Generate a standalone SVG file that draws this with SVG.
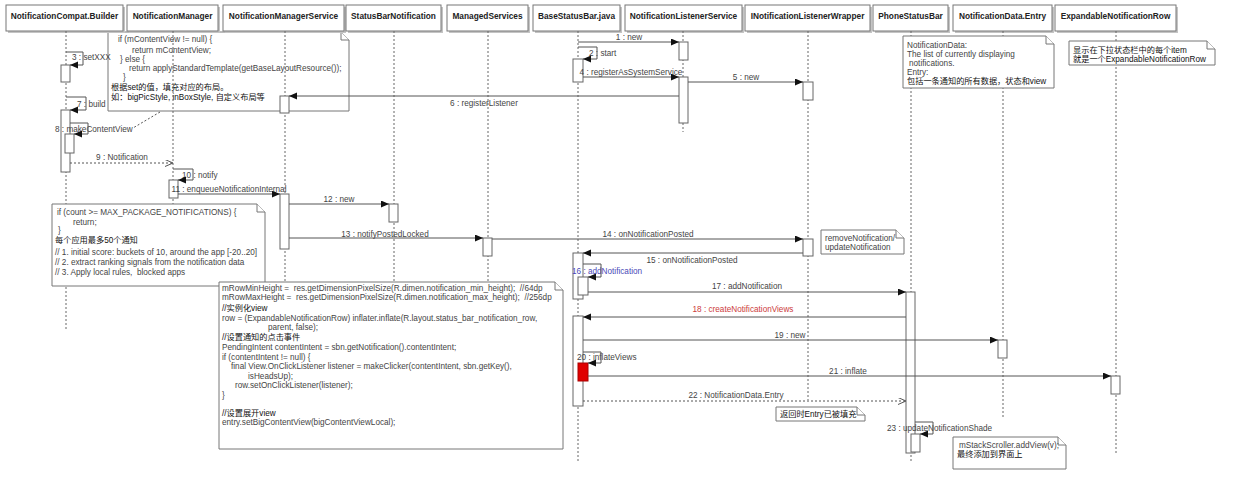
<svg xmlns="http://www.w3.org/2000/svg" width="1240" height="495" viewBox="0 0 1240 495">
<style>
.t{font-family:"Liberation Sans","Noto Sans CJK SC",sans-serif;font-size:8.2px;fill:#444;white-space:pre}
.c{fill:#111}
.b{font-family:"Liberation Sans","Noto Sans CJK SC",sans-serif;font-size:8.3px;font-weight:bold;fill:#222}
.m{text-anchor:middle}
.hd{fill:#fff;stroke:#777;stroke-width:1}
.sh{fill:#c4c4c4}
.ll{stroke:#666;stroke-width:1;stroke-dasharray:2,2;fill:none}
.act{fill:#fff;stroke:#666;stroke-width:1}
.msg{stroke:#555;stroke-width:1;fill:none}
.ret{stroke:#555;stroke-width:1;fill:none;stroke-dasharray:2,2}
.note{fill:#fff;stroke:#777;stroke-width:1}
</style>
<defs>
<marker id="arr" markerUnits="userSpaceOnUse" markerWidth="9" markerHeight="8" refX="8" refY="3.5" orient="auto"><path d="M0,0 L8,3.5 L0,7 z" fill="#111"/></marker>
<marker id="open" markerUnits="userSpaceOnUse" markerWidth="9" markerHeight="8" refX="8" refY="3.5" orient="auto"><path d="M0,0 L8,3.5 L0,7" fill="none" stroke="#555"/></marker>
</defs>
<rect width="1240" height="495" fill="#fff"/>

<!-- upper note (beneath lifelines) -->
<g id="note-contentview">
<path class="note" d="M108,32 H341 L349,40 V111 H108 Z"/><path class="note" d="M341,32 V40 H349"/>
<text class="t" x="118" y="42">if (mContentView != null) {</text>
<text class="t" x="132" y="53">return mContentView;</text>
<text class="t" x="120" y="62">} else {</text>
<text class="t" x="129" y="71">return applyStandardTemplate(getBaseLayoutResource());</text>
<text class="t" x="123" y="80">}</text>
<text class="t c" x="111" y="90">根据set的值，填充对应的布局。</text>
<text class="t c" x="111" y="100">如：bigPicStyle, inBoxStyle, 自定义布局等</text>
</g>

<!-- headers + lifelines -->
<g id="n-builder"><rect class="sh" x="8" y="7" width="117" height="26"/><rect class="hd" x="6" y="5" width="117" height="26"/><text class="b m" x="64.5" y="18.5">NotificationCompat.Builder</text><line class="ll" x1="66" y1="31" x2="66" y2="330"/></g>
<g id="n-manager"><rect class="sh" x="129" y="7" width="91" height="26"/><rect class="hd" x="127" y="5" width="91" height="26"/><text class="b m" x="172.5" y="18.5">NotificationManager</text><line class="ll" x1="173" y1="31" x2="173" y2="282"/></g>
<g id="n-nms"><rect class="sh" x="225" y="7" width="121" height="26"/><rect class="hd" x="223" y="5" width="121" height="26"/><text class="b m" x="283.5" y="18.5">NotificationManagerService</text><line class="ll" x1="285" y1="31" x2="285" y2="300"/></g>
<g id="n-sbn"><rect class="sh" x="348" y="7" width="95" height="26"/><rect class="hd" x="346" y="5" width="95" height="26"/><text class="b m" x="393.5" y="18.5">StatusBarNotification</text><line class="ll" x1="394" y1="31" x2="394" y2="300"/></g>
<g id="n-ms"><rect class="sh" x="449" y="7" width="81" height="26"/><rect class="hd" x="447" y="5" width="81" height="26"/><text class="b m" x="487.5" y="18.5">ManagedServices</text><line class="ll" x1="488" y1="31" x2="488" y2="300"/></g>
<g id="n-bsb"><rect class="sh" x="535" y="7" width="87" height="26"/><rect class="hd" x="533" y="5" width="87" height="26"/><text class="b m" x="576.5" y="18.5">BaseStatusBar.java</text><line class="ll" x1="578" y1="31" x2="578" y2="462"/></g>
<g id="n-nls"><rect class="sh" x="627" y="7" width="117" height="26"/><rect class="hd" x="625" y="5" width="117" height="26"/><text class="b m" x="683.5" y="18.5">NotificationListenerService</text><line class="ll" x1="683" y1="31" x2="683" y2="132"/></g>
<g id="n-inlw"><rect class="sh" x="747" y="7" width="125" height="26"/><rect class="hd" x="745" y="5" width="125" height="26"/><text class="b m" x="807.5" y="18.5">INotificationListenerWrapper</text><line class="ll" x1="808" y1="31" x2="808" y2="400"/></g>
<g id="n-psb"><rect class="sh" x="875" y="7" width="75" height="26"/><rect class="hd" x="873" y="5" width="75" height="26"/><text class="b m" x="910.5" y="18.5">PhoneStatusBar</text><line class="ll" x1="911" y1="31" x2="911" y2="462"/></g>
<g id="n-entry"><rect class="sh" x="955" y="7" width="99" height="26"/><rect class="hd" x="953" y="5" width="99" height="26"/><text class="b m" x="1002.5" y="18.5">NotificationData.Entry</text><line class="ll" x1="1003" y1="31" x2="1003" y2="417"/></g>
<g id="n-row"><rect class="sh" x="1057" y="7" width="121" height="26"/><rect class="hd" x="1055" y="5" width="121" height="26"/><text class="b m" x="1115.5" y="18.5">ExpandableNotificationRow</text><line class="ll" x1="1116" y1="31" x2="1116" y2="455"/></g>

<!-- other notes -->
<g id="note-data">
<path class="note" d="M903,36 H1046 L1054,44 V88 H903 Z"/><path class="note" d="M1046,36 V44 H1054"/>
<text class="t" x="907" y="48">NotificationData:</text>
<text class="t" x="907" y="57">The list of currently displaying</text>
<text class="t" x="909" y="66">notifications.</text>
<text class="t" x="907" y="75">Entry:</text>
<text class="t c" x="907" y="84">包括一条通知的所有数据，状态和view</text>
</g>
<g id="note-row">
<path class="note" d="M1069,41 H1207 L1215,49 V65 H1069 Z"/><path class="note" d="M1207,41 V49 H1215"/>
<text class="t c" x="1073" y="53">显示在下拉状态栏中的每个item</text>
<text class="t c" x="1073" y="62">就是一个ExpandableNotificationRow</text>
</g>
<g id="note-count">
<path class="note" d="M52,204 H257 L265,212 V286 H52 Z"/><path class="note" d="M257,204 V212 H265"/>
<text class="t" x="57" y="215">if (count &gt;= MAX_PACKAGE_NOTIFICATIONS) {</text>
<text class="t" x="73" y="225">return;</text>
<text class="t" x="58" y="233">}</text>
<text class="t c" x="55" y="243">每个应用最多50个通知</text>
<text class="t" x="55" y="255">// 1. initial score: buckets of 10, around the app [-20..20]</text>
<text class="t" x="55" y="265">// 2. extract ranking signals from the notification data</text>
<text class="t" x="55" y="275">// 3. Apply local rules,  blocked apps</text>
</g>
<g id="note-remove">
<path class="note" d="M821,230 H896 L904,238 V254 H821 Z"/><path class="note" d="M896,230 V238 H904"/>
<text class="t" x="825" y="241">removeNotification/</text>
<text class="t" x="825" y="250">updateNotification</text>
</g>
<g id="note-code">
<path class="note" d="M219,282 H555 L563,290 V449 H219 Z"/><path class="note" d="M555,282 V290 H563"/>
<text class="t" x="222" y="291">mRowMinHeight =  res.getDimensionPixelSize(R.dimen.notification_min_height);  //64dp</text>
<text class="t" x="222" y="300">mRowMaxHeight =  res.getDimensionPixelSize(R.dimen.notification_max_height);  //256dp</text>
<text class="t c" x="222" y="311">//实例化view</text>
<text class="t" x="222" y="321">row = (ExpandableNotificationRow) inflater.inflate(R.layout.status_bar_notification_row,</text>
<text class="t" x="268" y="330">parent, false);</text>
<text class="t c" x="222" y="340">//设置通知的点击事件</text>
<text class="t" x="222" y="350">PendingIntent contentIntent = sbn.getNotification().contentIntent;</text>
<text class="t" x="222" y="360">if (contentIntent != null) {</text>
<text class="t" x="231" y="369">final View.OnClickListener listener = makeClicker(contentIntent, sbn.getKey(),</text>
<text class="t" x="248" y="379">isHeadsUp);</text>
<text class="t" x="235" y="388">row.setOnClickListener(listener);</text>
<text class="t" x="222" y="398">}</text>
<text class="t c" x="222" y="416">//设置展开view</text>
<text class="t" x="222" y="425">entry.setBigContentView(bigContentViewLocal);</text>
</g>
<g id="note-filled">
<path class="note" d="M776,407 H857 L865,415 V421 H776 Z"/><path class="note" d="M857,407 V415 H865"/>
<text class="t c" x="780" y="417">返回时Entry已被填充</text>
</g>
<g id="note-addview">
<path class="note" d="M953,437 H1058 L1066,445 V469 H953 Z"/><path class="note" d="M1058,437 V445 H1066"/>
<text class="t" x="959" y="448">mStackScroller.addView(v);</text>
<text class="t c" x="957" y="457">最终添加到界面上</text>
</g>

<!-- activations -->
<g id="activations">
<rect class="act" x="61" y="65" width="9" height="17"/>
<rect class="act" x="61" y="110" width="9" height="62"/>
<rect class="act" x="65" y="134" width="9" height="19"/>
<rect class="act" x="169" y="180" width="9" height="18"/>
<rect class="act" x="280" y="96" width="9" height="17"/>
<rect class="act" x="280" y="194" width="9" height="55"/>
<rect class="act" x="389" y="204" width="9" height="18"/>
<rect class="act" x="483" y="238" width="9" height="18"/>
<rect class="act" x="573" y="59" width="10" height="23"/>
<rect class="act" x="573" y="253" width="10" height="46"/>
<rect class="act" x="578" y="277" width="10" height="18"/>
<rect class="act" x="573" y="316" width="10" height="90"/>
<rect x="578" y="363" width="10" height="18" fill="#e00000" stroke="#a00"/>
<rect class="act" x="679" y="42" width="9" height="18"/>
<rect class="act" x="679" y="77" width="9" height="46"/>
<rect class="act" x="803" y="82" width="10" height="18"/>
<rect class="act" x="803" y="239" width="10" height="17"/>
<rect class="act" x="906" y="292" width="9" height="161"/>
<rect class="act" x="911" y="434" width="9" height="18"/>
<rect class="act" x="998" y="340" width="9" height="18"/>
<rect class="act" x="1111" y="376" width="9" height="18"/>
</g>

<!-- connectors -->
<g id="connectors">
<line class="msg" x1="578" y1="42" x2="679" y2="42" marker-end="url(#arr)"/>
<text class="t m" x="629" y="40">1 : new</text>
<text class="t" x="589" y="56">2 : start</text>
<path class="msg" d="M578,47 H597 V59 H583" marker-end="url(#arr)"/>
<text class="t" x="72" y="60">3 : setXXX</text>
<path class="msg" d="M66,52 H83 V65 H70" marker-end="url(#arr)"/>
<line class="msg" x1="583" y1="77" x2="679" y2="77" marker-end="url(#arr)"/>
<text class="t m" x="631" y="75">4 : registerAsSystemService</text>
<line class="msg" x1="688" y1="82" x2="803" y2="82" marker-end="url(#arr)"/>
<text class="t m" x="746" y="80">5 : new</text>
<line class="msg" x1="679" y1="96" x2="289" y2="96" marker-end="url(#arr)"/>
<text class="t m" x="484" y="106">6 : registerListener</text>
<text class="t" x="77" y="107">7 : build</text>
<path class="msg" d="M66,97 H86 V110 H70" marker-end="url(#arr)"/>
<text class="t" x="55" y="132">8 : makeContentView</text>
<path class="msg" d="M70,123 H88 V134 H74" marker-end="url(#arr)"/>
<line class="ret" x1="160" y1="112" x2="133" y2="128"/>
<line class="ret" x1="70" y1="163" x2="173" y2="163" marker-end="url(#open)"/>
<text class="t m" x="122" y="160">9 : Notification</text>
<text class="t" x="182" y="178">10 : notify</text>
<path class="msg" d="M173,169 H193 V180 H178" marker-end="url(#arr)"/>
<line class="msg" x1="178" y1="194" x2="280" y2="194" marker-end="url(#arr)"/>
<text class="t m" x="229" y="192">11 : enqueueNotificationInternal</text>
<line class="msg" x1="289" y1="204" x2="389" y2="204" marker-end="url(#arr)"/>
<text class="t m" x="339" y="202">12 : new</text>
<line class="msg" x1="289" y1="238" x2="483" y2="238" marker-end="url(#arr)"/>
<text class="t m" x="385" y="237">13 : notifyPostedLocked</text>
<line class="msg" x1="492" y1="239" x2="803" y2="239" marker-end="url(#arr)"/>
<text class="t m" x="648" y="237">14 : onNotificationPosted</text>
<line class="msg" x1="803" y1="253" x2="583" y2="253" marker-end="url(#arr)"/>
<text class="t m" x="692" y="263">15 : onNotificationPosted</text>
<text class="t" x="572" y="274" style="fill:#4a4ab8">16 : addNotification</text>
<path class="msg" d="M583,264 H601 V277 H588" marker-end="url(#arr)"/>
<line class="msg" x1="588" y1="292" x2="906" y2="292" marker-end="url(#arr)"/>
<text class="t m" x="747" y="289">17 : addNotification</text>
<line class="msg" x1="906" y1="317" x2="583" y2="317" marker-end="url(#arr)"/>
<text class="t m" x="743" y="312" style="fill:#cc3b3b">18 : createNotificationViews</text>
<line class="msg" x1="583" y1="340" x2="998" y2="340" marker-end="url(#arr)"/>
<text class="t m" x="790" y="338">19 : new</text>
<text class="t" x="577" y="360">20 : inflateViews</text>
<path class="msg" d="M583,352 H601 V363 H588" marker-end="url(#arr)"/>
<line class="msg" x1="588" y1="376" x2="1111" y2="376" marker-end="url(#arr)"/>
<text class="t m" x="848" y="374">21 : inflate</text>
<line class="ret" x1="583" y1="401" x2="906" y2="401" marker-end="url(#open)"/>
<text class="t m" x="736" y="398">22 : NotificationData.Entry</text>
<text class="t" x="887" y="431">23 : updateNotificationShade</text>
<path class="msg" d="M915,422 H933 V434 H920" marker-end="url(#arr)"/>
</g>
</svg>
